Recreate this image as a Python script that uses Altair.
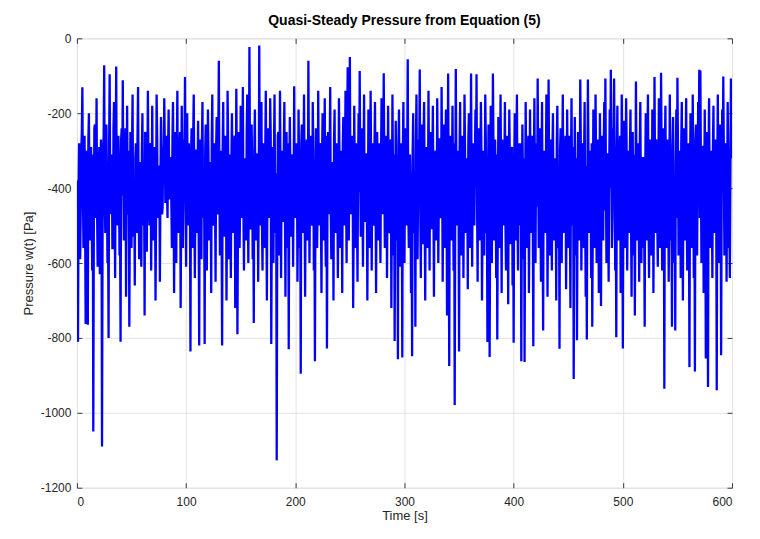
import altair as alt
import pandas as pd

# Quasi-steady pressure samples (Pa) at whole seconds
pressure = [
    -450, -810, -280, -590, -300, -131, -560, -260, -763, -330, -765, -200, -540, -290, -620, -1050, -240, -480, -160, -610,
    -350, -630, -270, -1090, -300, -72, -520, -230, -600, -800, -96, -470, -310, -560, -170, -640, -75, -500, -260, -580,
    -810, -240, -112, -540, -300, -690, -180, -470, -770, -250, -560, -150, -420, -660, -280, -520, -130, -590, -330, -610,
    -200, -500, -740, -260, -570, -140, -450, -310, -620, -180, -540, -290, -700, -150, -480, -340, -650, -210, -470, -290,
    -160, -440, -260, -480, -190, -430, -320, -560, -170, -680, -250, -600, -140, -520, -300, -720, -180, -560, -270, -103,
    -610, -200, -500, -330, -836, -240, -560, -150, -640, -300, -520, -220, -820, -270, -590, -170, -480, -816, -230, -620,
    -190, -540, -330, -680, -150, -500, -280, -650, -210, -450, -60, -580, -300, -820, -170, -530, -260, -700, -140, -590,
    -310, -640, -200, -520, -280, -720, -135, -790, -250, -560, -180, -480, -130, -620, -320, -540, -150, -600, -23, -510,
    -230, -590, -760, -190, -540, -310, -650, -19, -500, -170, -620, -280, -560, -140, -700, -240, -480, -160, -816, -290,
    -600, -150, -520, -1127, -260, -580, -140, -640, -300, -490, -170, -690, -250, -560, -830, -210, -530, -320, -610, -128,
    -480, -280, -650, -190, -560, -896, -230, -520, -150, -690, -310, -540, -60, -600, -260, -480, -170, -620, -862, -240,
    -560, -140, -500, -300, -680, -200, -540, -160, -610, -828, -250, -470, -130, -590, -330, -700, -190, -520, -280, -640,
    -160, -560, -300, -680, -210, -500, -140, -600, -77, -540, -50, -470, -260, -720, -180, -560, -320, -650, -200, -87,
    -530, -240, -610, -150, -490, -310, -700, -190, -560, -140, -620, -280, -500, -170, -680, -250, -540, -330, -600, -160,
    -470, -93, -560, -260, -640, -180, -520, -300, -720, -150, -580, -808, -220, -540, -857, -190, -610, -280, -852, -170,
    -600, -240, -500, -56, -560, -310, -680, -849, -200, -520, -770, -150, -590, -270, -83, -640, -230, -550, -170, -700,
    -290, -560, -140, -620, -250, -510, -180, -690, -320, -540, -160, -600, -270, -480, -130, -650, -230, -560, -190, -740,
    -94, -875, -260, -540, -180, -620, -979, -82, -500, -300, -836, -170, -580, -260, -640, -150, -520, -320, -670, -200,
    -560, -94, -610, -280, -500, -190, -96, -650, -240, -540, -170, -700, -300, -580, -150, -520, -811, -230, -851, -180,
    -600, -94, -540, -270, -640, -804, -210, -560, -150, -680, -310, -500, -170, -620, -260, -710, -190, -550, -300, -660,
    -813, -200, -540, -150, -620, -280, -500, -862, -230, -590, -864, -170, -560, -310, -680, -190, -520, -260, -822, -160,
    -600, -280, -107, -560, -240, -650, -170, -780, -300, -520, -150, -690, -110, -580, -270, -620, -200, -540, -320, -700,
    -180, -560, -829, -240, -600, -150, -520, -290, -670, -190, -560, -260, -720, -160, -500, -910, -210, -580, -806, -250,
    -540, -110, -620, -280, -560, -170, -690, -804, -110, -520, -300, -640, -770, -190, -560, -150, -600, -270, -680, -200,
    -715, -260, -540, -170, -107, -600, -310, -650, -190, -84, -560, -240, -107, -620, -798, -180, -540, -290, -680, -150,
    -828, -220, -560, -160, -620, -300, -520, -190, -690, -250, -580, -740, -115, -540, -280, -650, -170, -600, -320, -560,
    -770, -200, -540, -150, -640, -270, -580, -190, -680, -103, -520, -300, -610, -160, -560, -92, -620, -240, -936, -180,
    -560, -270, -650, -150, -540, -770, -210, -600, -780, -190, -105, -580, -300, -640, -170, -700, -240, -540, -160, -620,
    -280, -878, -200, -560, -150, -640, -890, -230, -580, -170, -84, -86, -600, -290, -680, -190, -855, -250, -931, -160,
    -560, -300, -640, -180, -520, -270, -940, -150, -600, -230, -846, -190, -102, -580, -280, -650, -170, -560, -640, -107,
    -300,
]

# Samples at the half seconds in between (core of the band)
pressure_half = [
    -380, -420, -330, -460, -250, -400, -350, -480, -300, -520, -270, -410, -360, -440, -310, -500, -230, -390, -470, -340,
    -290, -450, -370, -520, -260, -430, -330, -390, -480, -280, -410, -350, -560, -240, -400, -300, -460, -370, -330, -490,
    -270, -420, -360, -510, -240, -380, -440, -300, -470, -350, -280, -530, -390, -320, -450, -260, -410, -370, -490, -300,
    -430, -350, -250, -460, -380, -330, -500, -280, -400, -440, -310, -370, -480, -260, -420, -350, -390, -300, -450, -340,
    -280, -360, -410, -300, -380, -320, -440, -270, -390, -350, -460, -300, -420, -380, -250, -480, -340, -410, -290, -430,
    -360, -470, -280, -420, -330, -510, -260, -390, -450, -300, -370, -490, -340, -410, -270, -440, -360, -300, -520, -380,
    -310, -450, -390, -270, -480, -350, -420, -300, -470, -250, -400, -360, -510, -290, -430, -380, -330, -460, -280, -410,
    -470, -330, -390, -450, -260, -400, -350, -500, -300, -420, -370, -280, -460, -340, -410, -250, -440, -380, -320, -490,
    -350, -420, -290, -470, -380, -310, -450, -360, -270, -500, -340, -410, -300, -460, -380, -330, -420, -260, -480, -370,
    -300, -440, -360, -490, -250, -410, -380, -320, -470, -290, -430, -350, -510, -280, -400, -360, -450, -310, -390, -440,
    -370, -300, -460, -340, -410, -280, -490, -350, -380, -430, -270, -450, -330, -400, -360, -500, -290, -420, -380, -310,
    -440, -360, -280, -470, -330, -400, -350, -510, -260, -420, -390, -300, -460, -350, -410, -270, -480, -340, -390, -430,
    -320, -460, -380, -290, -440, -350, -400, -270, -480, -330, -420, -360, -310, -500, -380, -280, -450, -340, -410, -370,
    -290, -430, -350, -480, -310, -390, -450, -260, -420, -370, -330, -490, -300, -410, -360, -440, -280, -470, -340, -400,
    -380, -320, -460, -290, -410, -350, -500, -270, -430, -380, -310, -450, -360, -400, -280, -480, -340, -420, -300, -440,
    -350, -410, -290, -460, -330, -390, -440, -300, -480, -360, -270, -430, -380, -320, -470, -350, -400, -260, -450, -370,
    -310, -440, -360, -290, -470, -340, -410, -380, -300, -490, -350, -420, -270, -460, -330, -390, -440, -310, -400, -360,
    -420, -300, -470, -350, -380, -280, -450, -330, -410, -370, -290, -480, -340, -400, -360, -310, -460, -380, -270, -430,
    -350, -410, -300, -460, -330, -390, -440, -280, -420, -360, -310, -490, -350, -400, -270, -450, -380, -320, -470, -340,
    -400, -290, -450, -360, -310, -480, -340, -410, -380, -270, -440, -350, -500, -300, -420, -370, -330, -460, -290, -410,
    -360, -430, -300, -470, -340, -390, -280, -450, -370, -320, -480, -350, -410, -260, -440, -380, -310, -460, -340, -400,
    -330, -450, -370, -290, -420, -360, -480, -310, -400, -350, -270, -460, -380, -330, -440, -300, -490, -360, -410, -280,
    -420, -350, -300, -470, -330, -400, -380, -260, -450, -360, -310, -480, -340, -410, -290, -440, -370, -320, -460, -350,
    -390, -280, -440, -360, -320, -470, -340, -400, -300, -450, -370, -280, -490, -350, -410, -330, -430, -300, -460, -380,
    -340, -420, -290, -460, -370, -310, -440, -350, -400, -270, -480, -360, -330, -450, -300, -420, -380, -260, -470, -350,
    -400, -330, -450, -300, -410, -370, -290, -480, -350, -420, -310, -440, -380, -340, -460, -290, -410, -360, -320, -470,
    -350, -410, -280, -450, -370, -330, -490, -300, -420, -360, -270, -460, -390, -340, -430, -310, -400, -370, -290, -450,
    -380, -320, -460, -350, -410, -290, -440, -360, -330, -480, -300, -420, -370, -280, -450, -350, -400, -310, -470, -340,
    -420, -360, -300, -460, -340, -390, -270, -450, -370, -320, -480, -350, -410, -290, -440, -380, -330, -460, -300, -410,
    -360, -430, -290, -470, -350, -400, -320, -450, -380, -280, -440, -370, -310, -490, -340, -420, -300, -460, -360, -320,
]

x_ticks = [0, 100, 200, 300, 400, 500, 600]
y_ticks = [-1200, -1000, -800, -600, -400, -200, 0]

# interleave whole-second and half-second samples
times, values = [], []
n = min(len(pressure_half), len(pressure) - 1)
for i in range(n):
    times += [i, i + 0.5]
    values += [pressure[i], pressure_half[i]]
for j in range(n, len(pressure)):
    times.append(j)
    values.append(pressure[j])

df = pd.DataFrame({"t": times, "p": values})

xs = alt.Scale(domain=[0, 600], nice=False, zero=False)
ys = alt.Scale(domain=[-1200, 0], nice=False, zero=False)

axis_color = "#3a3a3a"
text_color = "#262626"
font = "Liberation Sans"

base = alt.Chart(df)

line = base.mark_line(color="#0000ff", strokeWidth=2.3, clip=True).encode(
    x=alt.X(
        "t:Q", scale=xs,
        axis=alt.Axis(
            values=x_ticks, title="Time [s]", orient="bottom", offset=-5, tickSize=5,
            domain=False, grid=True, labelPadding=9, titlePadding=2,
            labelExpr="datum.value + ''",
            gridColor="#e3e3e3", tickColor=axis_color, labelColor=text_color,
            labelFont=font, labelFontSize=12, titleFont=font, titleFontSize=13,
            titleFontWeight="normal", titleColor=text_color,
        ),
    ),
    y=alt.Y(
        "p:Q", scale=ys,
        axis=alt.Axis(
            values=y_ticks, title="Pressure w(t) [Pa]", orient="left", offset=-5, tickSize=5,
            domain=False, grid=True, labelPadding=6, titlePadding=5,
            labelExpr="datum.value + ''",
            gridColor="#e3e3e3", tickColor=axis_color, labelColor=text_color,
            labelFont=font, labelFontSize=12, titleFont=font, titleFontSize=13,
            titleFontWeight="normal", titleColor=text_color,
        ),
    ),
)

ghost = base.mark_line(opacity=0).encode(
    x=alt.X(
        "t:Q", scale=xs,
        axis=alt.Axis(values=x_ticks, title="", orient="top", offset=-5, tickSize=5,
                      labels=False, domain=False, grid=False, tickColor=axis_color),
    ),
    y=alt.Y(
        "p:Q", scale=ys,
        axis=alt.Axis(values=y_ticks, title="", orient="right", offset=-5, tickSize=5,
                      labels=False, domain=False, grid=False, tickColor=axis_color),
    ),
)

chart = (
    alt.layer(line, ghost)
    .resolve_axis(x="independent", y="independent")
    .properties(
        width=656,
        height=450,
        title=alt.TitleParams(
            "Quasi-Steady Pressure from Equation (5)",
            font=font, fontSize=14, fontWeight="bold", color="#000000", offset=4,
        ),
        autosize=alt.AutoSizeParams(type="none"),
        padding={"left": 69, "top": 30, "right": 20, "bottom": 50},
    )
    .configure_view(stroke=axis_color, strokeWidth=1)
    .configure(background="white")
)

chart.save("out.html", embed_options={"renderer": "svg", "actions": False})
